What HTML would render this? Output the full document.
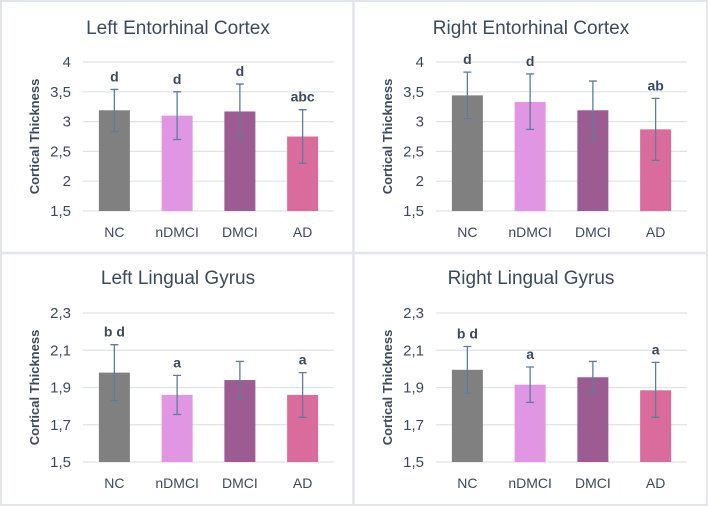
<!DOCTYPE html>
<html><head><meta charset="utf-8"><style>
body{margin:0;background:#fff;}
svg{display:block;font-family:"Liberation Sans",sans-serif;}
</style></head><body>
<svg id="c" width="708" height="506" xmlns="http://www.w3.org/2000/svg"></svg>
<script>
const categories=["NC","nDMCI","DMCI","AD"];
const colors=["#808080","#e196e4","#9c5b91","#da6c9d"];
const titles=["Left Entorhinal Cortex","Right Entorhinal Cortex","Left Lingual Gyrus","Right Lingual Gyrus"];
const lecValues=[3.19,3.10,3.17,2.75];
const lecHigh=[3.54,3.50,3.63,3.20];
const lecLow=[2.83,2.70,2.72,2.30];
const lecLabels=["d","d","d","abc"];
const recValues=[3.44,3.33,3.19,2.87];
const recHigh=[3.83,3.80,3.68,3.39];
const recLow=[3.05,2.87,2.72,2.35];
const recLabels=["d","d","","ab"];
const llgValues=[1.98,1.86,1.94,1.86];
const llgHigh=[2.13,1.965,2.04,1.98];
const llgLow=[1.83,1.755,1.84,1.74];
const llgLabels=["b d","a","","a"];
const rlgValues=[1.995,1.915,1.955,1.885];
const rlgHigh=[2.12,2.01,2.04,2.035];
const rlgLow=[1.87,1.82,1.875,1.74];
const rlgLabels=["b d","a","","a"];
const entTicks=["1,5","2","2,5","3","3,5","4"];
const entTickVals=[1.5,2,2.5,3,3.5,4];
const lingTicks=["1,5","1,7","1,9","2,1","2,3"];
const lingTickVals=[1.5,1.7,1.9,2.1,2.3];

const NS="http://www.w3.org/2000/svg";
const svg=document.getElementById('c');
function mk(tag,attrs,parent){const e=document.createElementNS(NS,tag);for(const k in attrs)e.setAttribute(k,attrs[k]);(parent||svg).appendChild(e);return e;}

const panels=[
 {ox:0,oy:0,v:lecValues,h:lecHigh,l:lecLow,lab:lecLabels,t:entTicks,tv:entTickVals,min:1.5,max:4,name:'left-entorhinal'},
 {ox:353,oy:0,v:recValues,h:recHigh,l:recLow,lab:recLabels,t:entTicks,tv:entTickVals,min:1.5,max:4,name:'right-entorhinal'},
 {ox:0,oy:253,v:llgValues,h:llgHigh,l:llgLow,lab:llgLabels,t:lingTicks,tv:lingTickVals,min:1.5,max:2.3,name:'left-lingual'},
 {ox:353,oy:253,v:rlgValues,h:rlgHigh,l:rlgLow,lab:rlgLabels,t:lingTicks,tv:lingTickVals,min:1.5,max:2.3,name:'right-lingual'}
];
const bg=mk('rect',{x:1,y:1,width:706,height:504,fill:'#fff',stroke:'#e2e6eb','stroke-width':2});

const vd=mk('line',{x1:353.5,y1:0,x2:353.5,y2:506,stroke:'#e2e6eb','stroke-width':2.5});

const hd=mk('line',{x1:0,y1:253,x2:708,y2:253,stroke:'#e2e6eb','stroke-width':2.5});


panels.forEach((p,pi)=>{
 const g=mk('g',{transform:`translate(${p.ox},${p.oy})`});
 
 
 const top=p.oy?60:62, bot=p.oy?209:211, x0=83, x1=334;
 const y=v=>bot-(v-p.min)/(p.max-p.min)*(bot-top);
 const band=(x1-x0)/categories.length;
 const xc=i=>x0+band*(i+0.5);
 const tt=mk('text',{x:178,y:p.oy?31:34,'text-anchor':'middle','font-size':19,fill:'#3b4a5c'},g);
 tt.textContent=titles[pi];
 
 p.tv.forEach((tv,i)=>{
  const gl=mk('line',{x1:x0,x2:x1,y1:y(tv),y2:y(tv),stroke:'#dfe3e8','stroke-width':1.2},g);
  
  const tl=mk('text',{x:71,y:y(tv)+5,'text-anchor':'end','font-size':15,fill:'#3b4a5c'},g);
  tl.textContent=p.t[i];
  
 });
 const yl=mk('text',{transform:`translate(39,${(top+bot)/2}) rotate(-90)`,'text-anchor':'middle','font-size':13,'font-weight':'bold',fill:'#3b4a5c'},g);
 yl.textContent='Cortical Thickness';
 
 categories.forEach((c,i)=>{
  const bw=31;
  const b=mk('rect',{x:xc(i)-bw/2,y:y(p.v[i]),width:bw,height:bot-y(p.v[i]),fill:colors[i]},g);
  
  const eb=mk('path',{d:`M${xc(i)},${y(p.h[i])}V${y(p.l[i])}M${xc(i)-4},${y(p.h[i])}H${xc(i)+4}M${xc(i)-4},${y(p.l[i])}H${xc(i)+4}`,stroke:'#5f7c9c','stroke-width':1.3,fill:'none'},g);
  
  if(p.lab[i]){
   const sl=mk('text',{x:xc(i),y:y(p.h[i])-8,'text-anchor':'middle','font-size':14,'font-weight':'bold',fill:'#3b4a5c'},g);
   sl.textContent=p.lab[i];
   
  }
  const cl=mk('text',{x:xc(i),y:bot+26,'text-anchor':'middle','font-size':14,fill:'#3b4a5c'},g);
  cl.textContent=c;
  
 });
});
</script>
</body></html>
